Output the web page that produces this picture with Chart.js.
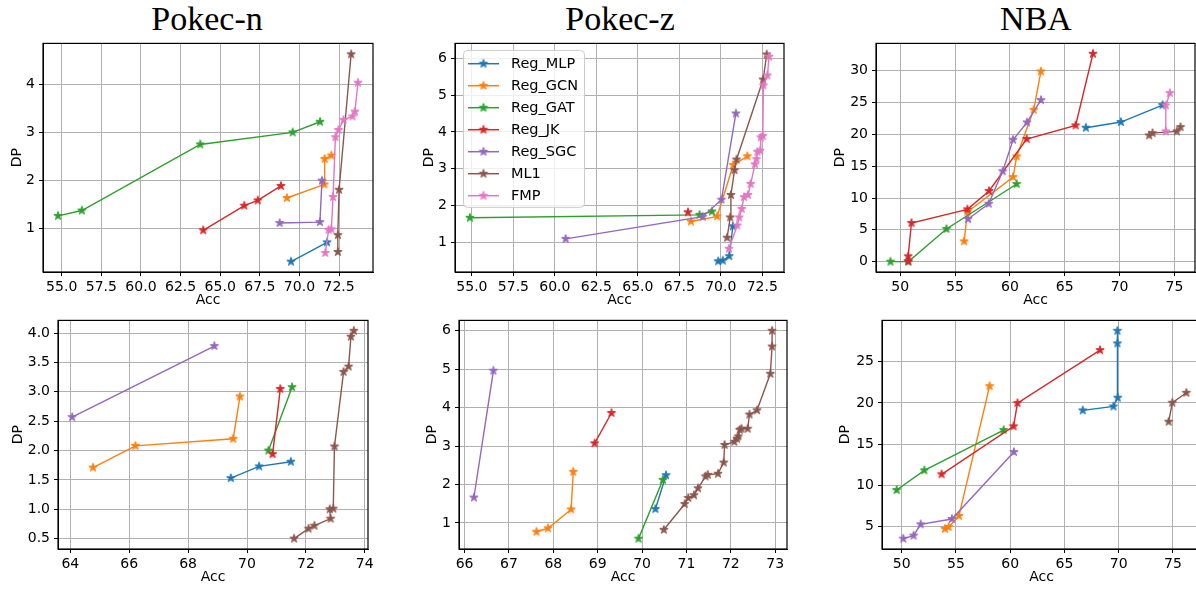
<!DOCTYPE html>
<html><head><meta charset="utf-8">
<script src="https://cdn.jsdelivr.net/npm/chart.js@4.4.0/dist/chart.umd.min.js"></script>
<style>
html,body{margin:0;padding:0;background:#fff;width:1196px;height:589px;overflow:hidden;position:relative}
canvas{position:absolute}
.ttl{position:absolute;font-family:'Liberation Serif','Times New Roman',serif;font-size:34px;color:#000;transform:translate(-50%,-50%);white-space:nowrap;line-height:1}
</style></head><body>
<div class="ttl" style="left:207px;top:19px">Pokec-n</div>
<div class="ttl" style="left:620px;top:19px">Pokec-z</div>
<div class="ttl" style="left:1036px;top:19px">NBA</div>
<script>
const SERIES = ['Reg_MLP','Reg_GCN','Reg_GAT','Reg_JK','Reg_SGC','ML1','FMP'];
const COLORS = ['#1f77b4','#ff7f0e','#2ca02c','#d62728','#9467bd','#8c564b','#e377c2'];

// ---- Pokec-n (top) ----
const PN_XTICKS = ['55.0','57.5','60.0','62.5','65.0','67.5','70.0','72.5'];
const PN_YTICKS = ['1','2','3','4'];
const PN_MLP_ACC = [69.47, 71.74];
const PN_MLP_DP  = [0.32, 0.72];
const PN_GCN_ACC = [69.21, 71.57, 71.59, 72.01];
const PN_GCN_DP  = [1.64, 1.92, 2.45, 2.52];
const PN_GAT_ACC = [54.77, 56.27, 63.74, 69.57, 71.30];
const PN_GAT_DP  = [1.27, 1.38, 2.75, 3.00, 3.22];
const PN_JK_ACC  = [63.93, 66.52, 67.37, 68.83];
const PN_JK_DP   = [0.97, 1.48, 1.59, 1.89];
const PN_SGC_ACC = [68.75, 71.29, 71.42];
const PN_SGC_DP  = [1.12, 1.14, 2.00];
const PN_ML1_ACC = [72.42, 72.42, 72.50, 73.26];
const PN_ML1_DP  = [0.52, 0.87, 1.81, 4.62];
const PN_FMP_ACC = [71.63, 71.84, 72.01, 72.12, 72.27, 72.46, 72.78, 73.35, 73.50, 73.69];
const PN_FMP_DP  = [0.50, 0.98, 0.99, 1.66, 2.90, 3.05, 3.26, 3.33, 3.43, 4.03];

// ---- Pokec-z (top) ----
const PZ_XTICKS = ['55.0','57.5','60.0','62.5','65.0','67.5','70.0','72.5'];
const PZ_YTICKS = ['1','2','3','4','5','6'];
const PZ_MLP_ACC = [69.84, 70.12, 70.51, 70.73];
const PZ_MLP_DP  = [0.49, 0.51, 0.63, 1.44];
const PZ_GCN_ACC = [68.20, 69.78, 70.75, 71.60];
const PZ_GCN_DP  = [1.57, 1.71, 3.10, 3.34];
const PZ_GAT_ACC = [54.88, 68.72, 69.47];
const PZ_GAT_DP  = [1.67, 1.75, 1.84];
const PZ_JK_ACC  = [68.02];
const PZ_JK_DP   = [1.82];
const PZ_SGC_ACC = [60.65, 68.91, 70.04, 70.91];
const PZ_SGC_DP  = [1.10, 1.70, 2.16, 4.50];
const PZ_ML1_ACC = [70.38, 70.57, 70.61, 70.83, 70.95, 72.55, 72.77];
const PZ_ML1_DP  = [1.13, 1.68, 2.29, 2.96, 3.25, 5.42, 6.10];
const PZ_FMP_ACC = [70.49, 70.99, 71.11, 71.26, 71.40, 71.64, 71.80, 72.06, 72.15, 72.21, 72.37, 72.41, 72.53, 72.57, 72.81, 72.91];
const PZ_FMP_DP  = [0.83, 1.46, 1.68, 1.91, 2.23, 2.29, 2.59, 3.12, 3.26, 3.46, 3.49, 3.85, 3.89, 5.26, 5.53, 6.04];

// ---- NBA (top) ----
const NB_XTICKS = ['50','55','60','65','70','75'];
const NB_YTICKS = ['0','5','10','15','20','25','30'];
const NB_MLP_ACC = [66.93, 70.12, 73.91];
const NB_MLP_DP  = [21.05, 21.94, 24.60];
const NB_GCN_ACC = [55.83, 56.13, 60.29, 60.62, 62.17, 62.83];
const NB_GCN_DP  = [3.19, 7.80, 13.30, 16.54, 23.87, 29.90];
const NB_GAT_ACC = [49.12, 50.76, 54.22, 60.62];
const NB_GAT_DP  = [0.00, 0.00, 5.13, 12.20];
const NB_JK_ACC  = [50.73, 50.73, 51.03, 56.13, 58.10, 61.53, 65.99, 67.57];
const NB_JK_DP   = [0.05, 0.84, 6.07, 8.22, 11.10, 19.27, 21.41, 32.67];
const NB_SGC_ACC = [56.19, 58.07, 59.34, 60.29, 61.56, 62.83];
const NB_SGC_DP  = [6.70, 9.10, 14.19, 19.16, 21.88, 25.39];
const NB_ML1_ACC = [72.69, 73.00, 75.21, 75.55];
const NB_ML1_DP  = [19.84, 20.20, 20.47, 21.15];
const NB_FMP_ACC = [74.21, 74.21, 74.58];
const NB_FMP_DP  = [20.47, 24.55, 26.49];

// ---- Pokec-n (bottom) ----
const PN2_XTICKS = ['64','66','68','70','72','74'];
const PN2_YTICKS = ['0.5','1.0','1.5','2.0','2.5','3.0','3.5','4.0'];
const PN2_MLP_ACC = [69.45, 70.41, 71.49];
const PN2_MLP_DP  = [1.53, 1.73, 1.81];
const PN2_GCN_ACC = [64.77, 66.21, 69.53, 69.76];
const PN2_GCN_DP  = [1.71, 2.08, 2.20, 2.92];
const PN2_GAT_ACC = [70.73, 71.53];
const PN2_GAT_DP  = [2.00, 3.08];
const PN2_JK_ACC  = [70.87, 71.13];
const PN2_JK_DP   = [1.94, 3.05];
const PN2_SGC_ACC = [64.06, 68.89];
const PN2_SGC_DP  = [2.57, 3.78];
const PN2_ML1_ACC = [71.60, 72.09, 72.29, 72.84, 72.81, 72.93, 72.97, 73.28, 73.45, 73.53, 73.63];
const PN2_ML1_DP  = [0.50, 0.67, 0.72, 0.84, 1.00, 1.01, 2.07, 3.34, 3.43, 3.94, 4.04];

// ---- Pokec-z (bottom) ----
const PZ2_XTICKS = ['66','67','68','69','70','71','72','73'];
const PZ2_YTICKS = ['1','2','3','4','5','6'];
const PZ2_MLP_ACC = [70.30, 70.54];
const PZ2_MLP_DP  = [1.36, 2.24];
const PZ2_GCN_ACC = [67.62, 67.88, 68.40, 68.45];
const PZ2_GCN_DP  = [0.77, 0.86, 1.35, 2.33];
const PZ2_GAT_ACC = [69.92, 70.47];
const PZ2_GAT_DP  = [0.59, 2.12];
const PZ2_JK_ACC  = [68.93, 69.31];
const PZ2_JK_DP   = [3.07, 3.86];
const PZ2_SGC_ACC = [66.21, 66.65];
const PZ2_SGC_DP  = [1.66, 4.96];
const PZ2_ML1_ACC = [70.49, 70.96, 71.04, 71.17, 71.26, 71.43, 71.48, 71.71, 71.84, 71.86, 72.08, 72.14, 72.17, 72.20, 72.24, 72.38, 72.42, 72.59, 72.89, 72.93, 72.93];
const PZ2_ML1_DP  = [0.82, 1.49, 1.65, 1.72, 1.90, 2.21, 2.25, 2.28, 2.57, 3.03, 3.11, 3.19, 3.25, 3.42, 3.45, 3.45, 3.82, 3.93, 4.88, 5.59, 6.00];

// ---- NBA (bottom) ----
const NB2_XTICKS = ['50','55','60','65','70','75'];
const NB2_YTICKS = ['5','10','15','20','25'];
const NB2_MLP_ACC = [66.69, 69.51, 69.91, 69.88, 69.88];
const NB2_MLP_DP  = [19.09, 19.57, 20.63, 27.23, 28.77];
const NB2_GCN_ACC = [53.99, 54.33, 55.28, 58.10];
const NB2_GCN_DP  = [4.68, 4.92, 6.26, 22.04];
const NB2_GAT_ACC = [49.54, 52.09, 59.39];
const NB2_GAT_DP  = [9.41, 11.80, 16.70];
const NB2_JK_ACC  = [53.68, 60.31, 60.67, 68.28];
const NB2_JK_DP   = [11.32, 17.15, 19.98, 26.42];
const NB2_SGC_ACC = [50.15, 51.10, 51.75, 54.63, 60.34];
const NB2_SGC_DP  = [3.50, 3.87, 5.24, 5.89, 14.03];
const NB2_ML1_ACC = [74.60, 74.94, 76.23];
const NB2_ML1_DP  = [17.71, 20.02, 21.23];

function starImg(color){
  const c=document.createElement('canvas'); c.width=14; c.height=14;
  const g=c.getContext('2d'); const R=4.4, r=R*0.381966;
  g.beginPath();
  for(let i=0;i<10;i++){const a=-Math.PI/2+i*Math.PI/5; const rr=i%2?r:R; g.lineTo(7+rr*Math.cos(a),7+rr*Math.sin(a));}
  g.closePath(); g.fillStyle=color; g.fill(); g.lineWidth=1; g.strokeStyle=color; g.lineJoin='miter'; g.stroke();
  return c;
}
const STARS = COLORS.map(starImg);

const framePlugin = {id:'frame', afterDatasetsDraw(chart){
  const {ctx, chartArea:a} = chart;
  ctx.save(); ctx.strokeStyle='#000'; ctx.lineWidth=1.2;
  ctx.strokeRect(a.left, a.top, a.right-a.left, a.bottom-a.top);
  ctx.restore();
}};
const legendPlugin = {id:'leg', afterDatasetsDraw(chart){
  const {ctx, chartArea:a} = chart;
  const x0=a.left+8.5, y0=a.top+7, w=121, h=157, rad=4;
  ctx.save();
  ctx.beginPath();
  ctx.moveTo(x0+rad,y0); ctx.lineTo(x0+w-rad,y0); ctx.arcTo(x0+w,y0,x0+w,y0+rad,rad);
  ctx.lineTo(x0+w,y0+h-rad); ctx.arcTo(x0+w,y0+h,x0+w-rad,y0+h,rad);
  ctx.lineTo(x0+rad,y0+h); ctx.arcTo(x0,y0+h,x0,y0+h-rad,rad);
  ctx.lineTo(x0,y0+rad); ctx.arcTo(x0,y0,x0+rad,y0,rad); ctx.closePath();
  ctx.fillStyle='rgba(255,255,255,0.8)'; ctx.fill();
  ctx.strokeStyle='#cccccc'; ctx.lineWidth=1; ctx.stroke();
  ctx.font='14.5px "DejaVu Sans"'; ctx.textBaseline='middle'; ctx.textAlign='left';
  SERIES.forEach((name,i)=>{
    const y=a.top+20.3+i*22;
    ctx.strokeStyle=COLORS[i]; ctx.lineWidth=1.5;
    ctx.beginPath(); ctx.moveTo(a.left+13,y); ctx.lineTo(a.left+44,y); ctx.stroke();
    ctx.drawImage(STARS[i], a.left+28.5-7, y-7);
    ctx.fillStyle='#000'; ctx.fillText(name, a.left+56, y+1);
  });
  ctx.restore();
}};

function ds(i, acc, dp){
  return {label:SERIES[i], data:acc.map((v,k)=>({x:v,y:dp[k]})), showLine:true,
    borderColor:COLORS[i], backgroundColor:COLORS[i], borderWidth:1.4,
    pointStyle:STARS[i], pointRadius:4, pointHoverRadius:4, order:10-i, tension:0, fill:false};
}

const PANELS = [
  {rect:[43,43,373,272], dpX:17, accY:301, x:[53.82,74.64], y:[0.105,4.845], xt:PN_XTICKS, yt:PN_YTICKS, legend:false,
   sets:[ds(0,PN_MLP_ACC,PN_MLP_DP),ds(1,PN_GCN_ACC,PN_GCN_DP),ds(2,PN_GAT_ACC,PN_GAT_DP),ds(3,PN_JK_ACC,PN_JK_DP),ds(4,PN_SGC_ACC,PN_SGC_DP),ds(5,PN_ML1_ACC,PN_ML1_DP),ds(6,PN_FMP_ACC,PN_FMP_DP)]},
  {rect:[455,43,784,272], dpX:429, accY:301, x:[53.98,73.81], y:[0.2,6.4], xt:PZ_XTICKS, yt:PZ_YTICKS, legend:true,
   sets:[ds(0,PZ_MLP_ACC,PZ_MLP_DP),ds(1,PZ_GCN_ACC,PZ_GCN_DP),ds(2,PZ_GAT_ACC,PZ_GAT_DP),ds(3,PZ_JK_ACC,PZ_JK_DP),ds(4,PZ_SGC_ACC,PZ_SGC_DP),ds(5,PZ_ML1_ACC,PZ_ML1_DP),ds(6,PZ_FMP_ACC,PZ_FMP_DP)]},
  {rect:[876,43,1195,272], dpX:840, accY:301, x:[47.80,76.87], y:[-1.63,34.30], xt:NB_XTICKS, yt:NB_YTICKS, legend:false,
   sets:[ds(0,NB_MLP_ACC,NB_MLP_DP),ds(1,NB_GCN_ACC,NB_GCN_DP),ds(2,NB_GAT_ACC,NB_GAT_DP),ds(3,NB_JK_ACC,NB_JK_DP),ds(4,NB_SGC_ACC,NB_SGC_DP),ds(5,NB_ML1_ACC,NB_ML1_DP),ds(6,NB_FMP_ACC,NB_FMP_DP)]},
  {rect:[58,320,368,549], dpX:18, accY:578, x:[63.58,74.11], y:[0.323,4.217], xt:PN2_XTICKS, yt:PN2_YTICKS, legend:false,
   sets:[ds(0,PN2_MLP_ACC,PN2_MLP_DP),ds(1,PN2_GCN_ACC,PN2_GCN_DP),ds(2,PN2_GAT_ACC,PN2_GAT_DP),ds(3,PN2_JK_ACC,PN2_JK_DP),ds(4,PN2_SGC_ACC,PN2_SGC_DP),ds(5,PN2_ML1_ACC,PN2_ML1_DP)]},
  {rect:[459,320,787,549], dpX:432, accY:578, x:[65.874,73.266], y:[0.32,6.27], xt:PZ2_XTICKS, yt:PZ2_YTICKS, legend:false,
   sets:[ds(0,PZ2_MLP_ACC,PZ2_MLP_DP),ds(1,PZ2_GCN_ACC,PZ2_GCN_DP),ds(2,PZ2_GAT_ACC,PZ2_GAT_DP),ds(3,PZ2_JK_ACC,PZ2_JK_DP),ds(4,PZ2_SGC_ACC,PZ2_SGC_DP),ds(5,PZ2_ML1_ACC,PZ2_ML1_DP)]},
  {rect:[882,320,1201,549], dpX:845, accY:578, x:[48.19,77.58], y:[2.24,30.03], xt:NB2_XTICKS, yt:NB2_YTICKS, legend:false,
   sets:[ds(0,NB2_MLP_ACC,NB2_MLP_DP),ds(1,NB2_GCN_ACC,NB2_GCN_DP),ds(2,NB2_GAT_ACC,NB2_GAT_DP),ds(3,NB2_JK_ACC,NB2_JK_DP),ds(4,NB2_SGC_ACC,NB2_SGC_DP),ds(5,NB2_ML1_ACC,NB2_ML1_DP)]}
];

Chart.defaults.color = '#000';
Chart.defaults.font.family = '"DejaVu Sans", sans-serif';
const FONT = {family:'"DejaVu Sans", sans-serif', size:14, lineHeight:1.2};
const PAD_TOP = 12, PAD_RIGHT = 25;

PANELS.forEach(p=>{
  const [l,t,r,b] = p.rect;
  const cl = Math.round(p.dpX - 8.4);
  const ct = t - PAD_TOP;
  const cb = Math.round(p.accY + 8.4);
  const W = r + PAD_RIGHT - cl, H = cb - ct;
  const yW = l - cl, xH = cb - b;
  const cv = document.createElement('canvas');
  cv.width = W; cv.height = H;
  cv.style.left = cl+'px'; cv.style.top = ct+'px'; cv.style.width = W+'px'; cv.style.height = H+'px';
  document.body.appendChild(cv);
  const lab = (arr)=> (v)=>{ const f=arr.find(s=>Math.abs(parseFloat(s)-v)<1e-6); return f===undefined?'':f; };
  const grid = {color:'#b0b0b0', lineWidth:1, tickColor:'#000', tickLength:4, drawTicks:true};
  const border = {display:true, color:'#000', width:1};
  new Chart(cv, {
    type:'scatter',
    data:{datasets:p.sets},
    options:{
      responsive:false, animation:false, devicePixelRatio:1, events:[],
      layout:{padding:{left:0, top:PAD_TOP, right:PAD_RIGHT, bottom:0}},
      plugins:{legend:{display:false}, tooltip:{enabled:false}, title:{display:false}},
      scales:{
        x:{type:'linear', position:'bottom', min:p.x[0], max:p.x[1],
           ticks:{font:FONT, color:'#000', padding:3, autoSkip:false, maxRotation:0, minRotation:0, callback:lab(p.xt)},
           grid:grid, border:border,
           title:{display:true, text:'Acc', font:FONT, color:'#000', padding:0},
           afterBuildTicks:s=>{ s.ticks = p.xt.map(v=>({value:parseFloat(v)})); },
           afterFit:s=>{ s.height = xH; }},
        y:{type:'linear', position:'left', min:p.y[0], max:p.y[1],
           ticks:{font:FONT, color:'#000', padding:4, autoSkip:false, maxRotation:0, minRotation:0, callback:lab(p.yt)},
           grid:grid, border:border,
           title:{display:true, text:'DP', font:FONT, color:'#000', padding:0},
           afterBuildTicks:s=>{ s.ticks = p.yt.map(v=>({value:parseFloat(v)})); },
           afterFit:s=>{ s.width = yW; }}
      }
    },
    plugins: p.legend ? [framePlugin, legendPlugin] : [framePlugin]
  });
});
</script>
</body></html>
